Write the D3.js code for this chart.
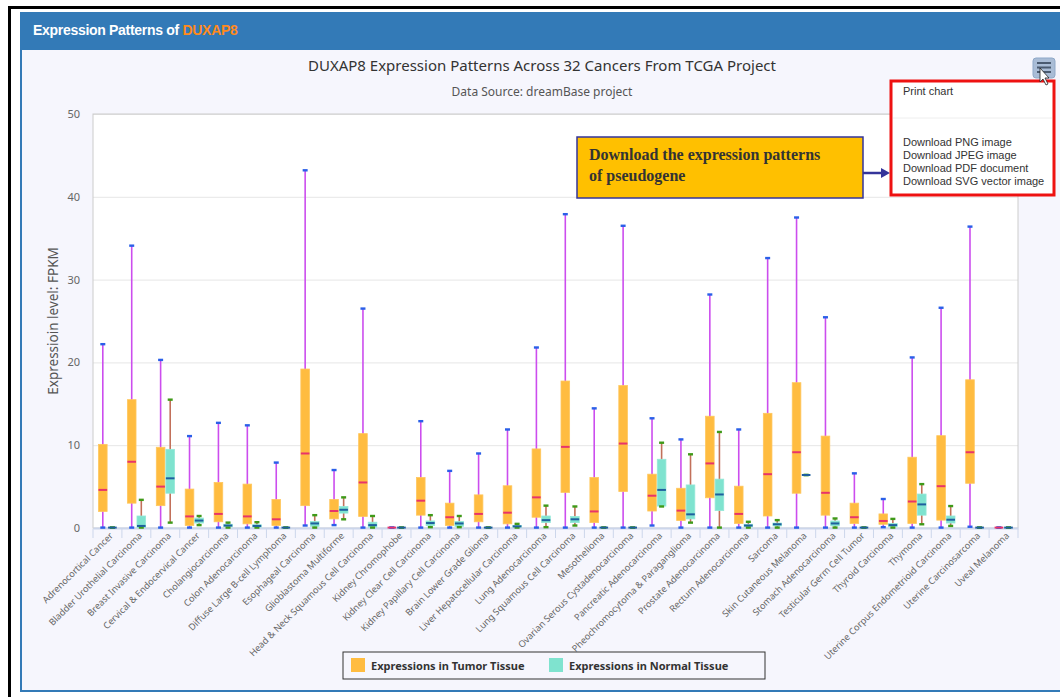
<!DOCTYPE html>
<html>
<head>
<meta charset="utf-8">
<script src="https://cdn.jsdelivr.net/npm/d3@7/dist/d3.min.js"></script>
<style>
    html, body { margin: 0; padding: 0; background: #ffffff; }
    svg { display: block; }
</style>
</head>
<body>
<div id="chart"></div>
<script>
// ---- data ----
const categories = [
    'Adrenocortical Cancer', 'Bladder Urothelial Carcinoma', 'Breast Invasive Carcinoma',
    'Cervical & Endocervical Cancer', 'Cholangiocarcinoma', 'Colon Adenocarcinoma',
    'Diffuse Large B-cell Lymphoma', 'Esophageal Carcinoma', 'Glioblastoma Multiforme',
    'Head & Neck Squamous Cell Carcinoma', 'Kidney Chromophobe', 'Kidney Clear Cell Carcinoma',
    'Kidney Papillary Cell Carcinoma', 'Brain Lower Grade Glioma', 'Liver Hepatocellular Carcinoma',
    'Lung Adenocarcinoma', 'Lung Squamous Cell Carcinoma', 'Mesothelioma',
    'Ovarian Serous Cystadenocarcinoma', 'Pancreatic Adenocarcinoma', 'Pheochromocytoma & Paraganglioma',
    'Prostate Adenocarcinoma', 'Rectum Adenocarcinoma', 'Sarcoma', 'Skin Cutaneous Melanoma',
    'Stomach Adenocarcinoma', 'Testicular Germ Cell Tumor', 'Thyroid Carcinoma', 'Thymoma',
    'Uterine Corpus Endometrioid Carcinoma', 'Uterine Carcinosarcoma', 'Uveal Melanoma'
];

// [min, q1, median, q3, max]
const tumorStats = [
    [0.05, 2.0, 4.6, 10.1, 22.2],
    [0.05, 3.0, 8.0, 15.5, 34.1],
    [0.05, 2.7, 5.0, 9.75, 20.3],
    [0.05, 0.3, 1.4, 4.7, 11.1],
    [0.05, 0.75, 1.7, 5.5, 12.7],
    [0.05, 0.5, 1.4, 5.3, 12.4],
    [0.05, 0.3, 1.05, 3.45, 7.9],
    [0.3, 2.7, 9.0, 19.2, 43.2],
    [0.35, 1.1, 2.05, 3.45, 7.0],
    [0.05, 1.4, 5.5, 11.4, 26.5],
    [0.05, 0.05, 0.05, 0.05, 0.05],
    [0.05, 1.55, 3.3, 6.1, 12.9],
    [0.05, 0.3, 1.3, 3.0, 6.9],
    [0.05, 0.75, 1.7, 4.0, 9.0],
    [0.05, 0.5, 1.85, 5.1, 11.9],
    [0.05, 1.3, 3.7, 9.55, 21.8],
    [0.05, 4.3, 9.8, 17.75, 37.9],
    [0.05, 0.65, 2.0, 6.1, 14.45],
    [0.05, 4.4, 10.2, 17.2, 36.5],
    [0.3, 2.05, 3.9, 6.5, 13.25],
    [0.05, 0.9, 2.1, 4.8, 10.7],
    [0.05, 3.65, 7.8, 13.5, 28.2],
    [0.05, 0.55, 1.7, 5.05, 11.9],
    [0.05, 1.45, 6.5, 13.85, 32.6],
    [0.05, 4.2, 9.15, 17.55, 37.5],
    [0.05, 1.55, 4.25, 11.1, 25.45],
    [0.05, 0.55, 1.3, 3.0, 6.6],
    [0.1, 0.45, 0.85, 1.7, 3.5],
    [0.05, 0.55, 3.2, 8.55, 20.6],
    [0.05, 0.95, 5.05, 11.15, 26.6],
    [0.15, 5.4, 9.15, 17.9, 36.4],
    [0.05, 0.05, 0.05, 0.05, 0.05]
];

const normalStats = [
    [0.05, 0.05, 0.05, 0.05, 0.05],
    [0.05, 0.05, 0.25, 1.45, 3.4],
    [0.65, 4.2, 6.0, 9.5, 15.5],
    [0.35, 0.6, 0.9, 1.2, 1.45],
    [0.05, 0.15, 0.3, 0.45, 0.65],
    [0.05, 0.1, 0.25, 0.4, 0.7],
    [0.05, 0.05, 0.05, 0.05, 0.05],
    [0.05, 0.2, 0.55, 0.8, 1.55],
    [1.05, 1.8, 2.2, 2.6, 3.7],
    [0.05, 0.1, 0.35, 0.7, 1.45],
    [0.05, 0.05, 0.05, 0.05, 0.05],
    [0.1, 0.3, 0.6, 0.85, 1.55],
    [0.1, 0.2, 0.55, 0.8, 1.45],
    [0.05, 0.05, 0.05, 0.05, 0.05],
    [0.05, 0.1, 0.2, 0.3, 0.5],
    [0.1, 0.65, 0.95, 1.45, 2.7],
    [0.3, 0.65, 1.05, 1.4, 2.6],
    [0.05, 0.05, 0.05, 0.05, 0.05],
    [0.05, 0.05, 0.05, 0.05, 0.05],
    [2.6, 2.65, 4.6, 8.3, 10.3],
    [0.65, 1.1, 1.65, 5.2, 8.9],
    [0.05, 2.1, 4.05, 5.9, 11.6],
    [0.05, 0.15, 0.3, 0.45, 0.75],
    [0.05, 0.25, 0.45, 0.6, 0.95],
    [6.4, 6.4, 6.4, 6.4, 6.4],
    [0.05, 0.25, 0.55, 0.85, 1.15],
    [0.05, 0.05, 0.05, 0.05, 0.05],
    [0.05, 0.15, 0.35, 0.55, 1.1],
    [0.45, 1.55, 2.85, 4.1, 5.3],
    [0.25, 0.6, 1.0, 1.45, 2.65],
    [0.05, 0.05, 0.05, 0.05, 0.05],
    [0.05, 0.05, 0.05, 0.05, 0.05]
];

const yTicks = [0, 10, 20, 30, 40, 50];

const menuItems = ['Download PNG image', 'Download JPEG image', 'Download PDF document', 'Download SVG vector image'];

// ---- styles per series ----
const seriesStyle = {
    tumor:  { fill: '#ffbc40', stroke: '#ffc75e', median: '#e8336b', whisker: '#cc4dee', cap: '#2a5fe8', label: 'Expressions in Tumor Tissue' },
    normal: { fill: '#7fe3cf', stroke: '#95e8d8', median: '#1e5f9e', whisker: '#c2705a', cap: '#3f9a18', label: 'Expressions in Normal Tissue' }
};

const width = 1060, height = 697;
const margin = { top: 114, right: 42, bottom: 169, left: 93 };
const boundedWidth = width - margin.left - margin.right;
const boundedHeight = height - margin.top - margin.bottom;

const svg = d3.select('#chart').append('svg')
    .attr('width', width)
    .attr('height', height);

// Page frame: black border, blue panel with header
svg.append('rect').attr('x', 8).attr('y', 6).attr('width', width - 8).attr('height', 3).attr('fill', '#000');
svg.append('rect').attr('x', 8).attr('y', 6).attr('width', 3).attr('height', height - 6).attr('fill', '#000');
svg.append('rect')
    .attr('x', 21).attr('y', 13).attr('width', width - 20).attr('height', 678)
    .attr('fill', '#f6f6fd').attr('stroke', '#337ab7').attr('stroke-width', 2);
svg.append('rect').attr('x', 20).attr('y', 12).attr('width', width - 20).attr('height', 38).attr('fill', '#337ab7');

const header = svg.append('text')
    .attr('x', 33).attr('y', 35)
    .attr('font-family', 'Liberation Sans, Arial, sans-serif')
    .attr('font-weight', 'bold').attr('font-size', 14)
    .attr('letter-spacing', -0.3)
    .attr('fill', '#fff');
header.append('tspan').text('Expression Patterns of ');
header.append('tspan').attr('fill', '#ff8a1c').text('DUXAP8');

// Titles
svg.append('text')
    .attr('x', 542).attr('y', 71)
    .attr('text-anchor', 'middle')
    .attr('font-family', 'Noto Sans, sans-serif').attr('font-size', 15)
    .attr('fill', '#333')
    .text('DUXAP8 Expression Patterns Across 32 Cancers From TCGA Project');

svg.append('text')
    .attr('x', 542).attr('y', 96)
    .attr('text-anchor', 'middle')
    .attr('font-family', 'Noto Sans, sans-serif').attr('font-size', 12)
    .attr('fill', '#555')
    .text('Data Source: dreamBase project');

// Scales
const xScale = d3.scaleBand()
    .domain(categories)
    .range([0, boundedWidth]);

const xInner = d3.scaleBand()
    .domain(['tumor', 'normal'])
    .range([xScale.bandwidth() * 0.19, xScale.bandwidth() * 0.82])
    .paddingInner(0.1);

const yScale = d3.scaleLinear()
    .domain([0, 50])
    .range([boundedHeight, 0]);

const bounds = svg.append('g')
    .attr('transform', `translate(${margin.left}, ${margin.top})`);

// Plot background
bounds.append('rect')
    .attr('width', boundedWidth).attr('height', boundedHeight)
    .attr('fill', '#ffffff');

// Grid lines / y axis
const yAxis = d3.axisLeft(yScale)
    .tickValues(yTicks)
    .tickSize(-boundedWidth)
    .tickPadding(13);

const yAxisG = bounds.append('g').attr('class', 'y-axis').call(yAxis);
yAxisG.select('.domain').remove();
yAxisG.selectAll('.tick line').attr('stroke', '#e6e6e6').attr('stroke-width', 1);
yAxisG.selectAll('.tick text')
    .attr('font-family', 'Noto Sans, sans-serif').attr('font-size', 11)
    .attr('fill', '#666');

// plot border
bounds.append('rect')
    .attr('width', boundedWidth).attr('height', boundedHeight)
    .attr('fill', 'none').attr('stroke', '#cccccc').attr('stroke-width', 1);

// y title
bounds.append('text')
    .attr('transform', 'rotate(-90)')
    .attr('x', -boundedHeight / 2).attr('y', -35)
    .attr('text-anchor', 'middle')
    .attr('font-family', 'Noto Sans, sans-serif').attr('font-size', 13.5)
    .attr('fill', '#555')
    .text('Expressioin level: FPKM');

// x axis
const xAxis = d3.axisBottom(xScale).tickSize(0).tickFormat(d => d);
const xAxisG = bounds.append('g')
    .attr('class', 'x-axis')
    .attr('transform', `translate(0, ${boundedHeight})`)
    .call(xAxis);
xAxisG.select('.domain').attr('stroke', '#ccd6eb').attr('stroke-width', 2);
xAxisG.selectAll('.tick text')
    .attr('font-family', 'Noto Sans, sans-serif').attr('font-size', 9.2)
    .attr('fill', '#666')
    .attr('text-anchor', 'end')
    .attr('transform', 'translate(4, 6) rotate(-45)')
    .attr('dy', '0.35em')
    .attr('y', 0);

// tick marks between categories
xAxisG.selectAll('.sep')
    .data(d3.range(categories.length + 1))
    .join('line')
    .attr('class', 'sep')
    .attr('x1', i => i * xScale.step()).attr('x2', i => i * xScale.step())
    .attr('y1', 1).attr('y2', 10)
    .attr('stroke', '#ccd6eb');

// Boxes
const seriesData = [
    { key: 'tumor', stats: tumorStats },
    { key: 'normal', stats: normalStats }
];

seriesData.forEach(series => {
    const st = seriesStyle[series.key];
    const bw = xInner.bandwidth();
    const g = bounds.append('g').attr('class', `series-${series.key}`);

    const boxes = g.selectAll('g.box')
        .data(series.stats.map((s, i) => ({ cat: categories[i], min: s[0], q1: s[1], med: s[2], q3: s[3], max: s[4] })))
        .join('g')
        .attr('class', 'box')
        .attr('transform', d => `translate(${xScale(d.cat) + xInner(series.key)}, 0)`);

    // whisker stem
    boxes.append('line')
        .attr('x1', bw / 2).attr('x2', bw / 2)
        .attr('y1', d => yScale(d.max)).attr('y2', d => yScale(d.min))
        .attr('stroke', st.whisker).attr('stroke-width', 1.6);

    // box
    boxes.append('rect')
        .attr('x', 0).attr('width', bw)
        .attr('y', d => yScale(d.q3))
        .attr('height', d => Math.max(0, yScale(d.q1) - yScale(d.q3)))
        .attr('fill', st.fill).attr('stroke', st.stroke).attr('stroke-width', 0.8);

    // caps
    ['min', 'max'].forEach(k => {
        boxes.append('rect')
            .attr('x', bw / 2 - 2.5).attr('width', 5)
            .attr('y', d => yScale(d[k]) - 1.2).attr('height', 2.4)
            .attr('fill', st.cap);
    });

    // median
    boxes.append('line')
        .attr('x1', 0).attr('x2', bw)
        .attr('y1', d => yScale(d.med)).attr('y2', d => yScale(d.med))
        .attr('stroke', st.median).attr('stroke-width', 2);
});

// Legend
const legend = svg.append('g').attr('transform', 'translate(343, 652)');
legend.append('rect')
    .attr('width', 422).attr('height', 27)
    .attr('fill', '#f6f6fd').attr('stroke', '#333').attr('stroke-width', 1);
const legendX = [8, 206];
seriesData.forEach((series, i) => {
    const item = legend.append('g').attr('transform', `translate(${legendX[i]}, 6)`);
    item.append('rect').attr('width', 14).attr('height', 14).attr('fill', seriesStyle[series.key].fill);
    item.append('text')
        .attr('x', 20).attr('y', 11.5)
        .attr('font-family', 'Noto Sans, sans-serif').attr('font-weight', 'bold').attr('font-size', 11)
        .attr('fill', '#333')
        .text(seriesStyle[series.key].label);
});

// Annotation box + arrow
const note = svg.append('g').attr('transform', 'translate(577, 137)');
note.append('rect')
    .attr('width', 286).attr('height', 61)
    .attr('fill', '#ffc000').attr('stroke', '#34349a').attr('stroke-width', 1.5);
['Download the expression patterns', 'of pseudogene'].forEach((t, i) => {
    note.append('text')
        .attr('x', 12).attr('y', 23 + i * 21)
        .attr('font-family', 'Liberation Serif, Times New Roman, serif')
        .attr('font-weight', 'bold').attr('font-size', 16)
        .attr('fill', '#333')
        .text(t);
});
svg.append('line')
    .attr('x1', 863).attr('x2', 882).attr('y1', 173).attr('y2', 173)
    .attr('stroke', '#34349a').attr('stroke-width', 2.5);
svg.append('path')
    .attr('d', 'M881,168 L890,173 L881,178 Z')
    .attr('fill', '#34349a');

// Menu button
svg.append('rect')
    .attr('x', 1033).attr('y', 58).attr('width', 22).attr('height', 20).attr('rx', 3)
    .attr('fill', '#a9bcd6').attr('stroke', '#8fa8c8');
[63, 67.5, 72].forEach(yy => {
    svg.append('line')
        .attr('x1', 1037).attr('x2', 1051).attr('y1', yy).attr('y2', yy)
        .attr('stroke', '#4a5a70').attr('stroke-width', 2);
});

// Context menu
const menu = svg.append('g').attr('transform', 'translate(890, 80)');
menu.append('rect')
    .attr('x', 2).attr('y', 2).attr('width', 161).attr('height', 113)
    .attr('fill', '#ffffff');
menu.append('line')
    .attr('x1', 3).attr('x2', 162).attr('y1', 38).attr('y2', 38)
    .attr('stroke', '#eeeeee');
menu.append('text')
    .attr('x', 13).attr('y', 15)
    .attr('font-family', 'Liberation Sans, Arial, sans-serif').attr('font-size', 11)
    .attr('fill', '#333')
    .text('Print chart');
menuItems.forEach((t, i) => {
    menu.append('text')
        .attr('x', 13).attr('y', 66 + i * 13)
        .attr('font-family', 'Liberation Sans, Arial, sans-serif').attr('font-size', 11)
        .attr('fill', '#333')
        .text(t);
});
menu.append('rect')
    .attr('x', 1).attr('y', 1).attr('width', 163).attr('height', 114)
    .attr('fill', 'none').attr('stroke', '#ee1111').attr('stroke-width', 3);

// cursor arrow over the menu button
svg.append('path')
    .attr('d', 'M1040,68 L1040,82 L1043,79 L1046,85 L1048,84 L1045,78 L1049,78 Z')
    .attr('fill', '#fff').attr('stroke', '#222').attr('stroke-width', 0.8);
</script>
</body>
</html>
